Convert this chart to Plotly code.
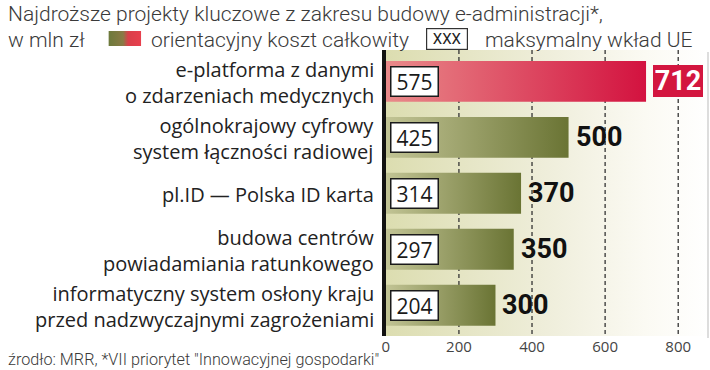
import plotly.graph_objects as go

categories = [
    "e-platforma z danymi<br>o zdarzeniach medycznych",
    "ogólnokrajowy cyfrowy<br>system łączności radiowej",
    "pl.ID — Polska ID karta",
    "budowa centrów<br>powiadamiania ratunkowego",
    "informatyczny system osłony kraju<br>przed nadzwyczajnymi zagrożeniami",
]
total_cost = [712, 500, 370, 350, 300]
eu_max = [575, 425, 314, 297, 204]
tick_vals = [0, 200, 400, 600, 800]
tick_text = ["0", "200", "400", "600", "800"]

W, H = 710, 370
X_MAX = 887
BAR_HALF = 0.365

green_scale = [[0, "#c2c495"], [1, "#6a7434"]]
red_scale = [[0, "#e98a8a"], [1, "#d3123f"]]

fig = go.Figure()

# background gradient
fig.add_trace(go.Scatter(
    x=[0, X_MAX, X_MAX, 0, 0], y=[-0.56, -0.56, 4.55, 4.55, -0.56],
    mode="lines", line=dict(width=0), fill="toself",
    fillgradient=dict(type="horizontal",
                      colorscale=[[0, "#dcddb0"], [0.5, "#efeedb"], [0.8, "#fbfaf3"], [1, "#ffffff"]]),
    hoverinfo="skip", showlegend=False))

# dashed gridlines
gx, gy = [], []
for v in tick_vals[1:]:
    gx += [v, v, None]
    gy += [-0.56, 4.55, None]
fig.add_trace(go.Scatter(x=gx, y=gy, mode="lines",
                         line=dict(color="#333333", width=1.3, dash="4px,3px"),
                         hoverinfo="skip", showlegend=False))

# bars
for i, v in enumerate(total_cost):
    fig.add_trace(go.Scatter(
        x=[0, v, v, 0, 0], y=[i - BAR_HALF, i - BAR_HALF, i + BAR_HALF, i + BAR_HALF, i - BAR_HALF],
        mode="lines", line=dict(width=0), fill="toself",
        fillgradient=dict(type="horizontal", colorscale=red_scale if i == 0 else green_scale),
        hoverinfo="skip", showlegend=False))

# legend swatch
fig.add_trace(go.Scatter(
    x=[0, 1, 1, 0, 0], y=[0, 0, 1, 1, 0], xaxis="x2", yaxis="y2",
    mode="lines", line=dict(width=0), fill="toself",
    fillgradient=dict(type="horizontal", colorscale=[[0, "#6c7a3c"], [0.45, "#8a7a45"], [0.6, "#d9404a"], [1, "#e8404e"]]),
    hoverinfo="skip", showlegend=False))

TXT_FONT = "Roboto"
annotations = []

# category labels
for i, cat in enumerate(categories):
    annotations.append(dict(
        x=0, y=i, xref="x", yref="y", xanchor="right", yanchor="middle", xshift=-10,
        yshift=-1, text=cat, showarrow=False, align="right",
        font=dict(family="Open Sans", size=20, color="#222222")))

for i, (v, e) in enumerate(zip(total_cost, eu_max)):
    annotations.append(dict(
        x=0, y=i, xref="x", yref="y", xanchor="left", yanchor="middle", xshift=4,
        text=str(e), showarrow=False, width=44, height=26, align="center",
        font=dict(family="Open Sans", size=21, color="#1a1a1a"),
        bgcolor="white", bordercolor="#1a1a1a", borderwidth=1.5, borderpad=1))
    if i == 0:
        annotations.append(dict(
            x=v, y=i, xref="x", yref="y", xanchor="left", yanchor="middle", xshift=7,
            text="<b>%d</b>" % v, showarrow=False, width=46, height=28,
            font=dict(family="Roboto", size=27, color="white", weight=900),
            bgcolor="#d3163f", bordercolor="#d3163f", borderwidth=1, borderpad=1))
    else:
        annotations.append(dict(
            x=v, y=i, xref="x", yref="y", xanchor="left", yanchor="middle", xshift=5,
            text="<b>%d</b>" % v, showarrow=False,
            font=dict(family="Roboto", size=27, color="#111111", weight=900)))

txt = "#3a3a3a"
tf = dict(family=TXT_FONT, size=21, color=txt, weight=300)
annotations += [
    dict(x=2 / W, y=1 - 14 / H, xref="paper", yref="paper", xanchor="left", yanchor="middle",
         text="Najdroższe projekty kluczowe z zakresu budowy e-administracji*,", showarrow=False, font=tf),
    dict(x=2 / W, y=1 - 40 / H, xref="paper", yref="paper", xanchor="left", yanchor="middle",
         text="w mln zł", showarrow=False, font=tf),
    dict(x=146 / W, y=1 - 40 / H, xref="paper", yref="paper", xanchor="left", yanchor="middle",
         text="orientacyjny koszt całkowity", showarrow=False, font=tf),
    dict(x=446 / W, y=1 - 39 / H, xref="paper", yref="paper", xanchor="center", yanchor="middle",
         text="XXX", showarrow=False, width=38,
         font=dict(family=TXT_FONT, size=15, color="#222222"),
         bgcolor="white", bordercolor="#333333", borderwidth=1.2, borderpad=1),
    dict(x=482 / W, y=1 - 40 / H, xref="paper", yref="paper", xanchor="left", yanchor="middle",
         text="maksymalny wkład UE", showarrow=False, font=tf),
    dict(x=2 / W, y=1 - 359 / H, xref="paper", yref="paper", xanchor="left", yanchor="middle",
         text="źrodło: MRR, *VII priorytet \"Innowacyjnej gospodarki\"", showarrow=False,
         font=dict(family=TXT_FONT, size=16.2, color=txt, weight=300)),
]

shapes = [
    dict(type="line", xref="paper", yref="paper", x0=708 / W, x1=708 / W,
         y0=(H - 338) / H, y1=(H - 52) / H, line=dict(color="#bbbbbb", width=1)),
]

fig.update_layout(
    width=W, height=H,
    margin=dict(l=0, r=0, t=0, b=0),
    paper_bgcolor="white", plot_bgcolor="white",
    showlegend=False,
    annotations=annotations,
    shapes=shapes,
    xaxis=dict(domain=[384 / W, 1], range=[0, X_MAX], showgrid=False, zeroline=False,
               tickvals=tick_vals, ticktext=tick_text, ticks="", showline=False,
               tickfont=dict(family="Open Sans", size=15, color="#444444"), fixedrange=True),
    yaxis=dict(domain=[(H - 336) / H, (H - 50) / H], range=[4.55, -0.56],
               tickvals=list(range(len(categories))), showticklabels=False,
               showgrid=False, zeroline=False, showline=True, linecolor="#111111", linewidth=4,
               ticks="", fixedrange=True),
    xaxis2=dict(domain=[105 / W, 138 / W], range=[0, 1], visible=False, anchor="y2"),
    yaxis2=dict(domain=[(H - 46) / H, (H - 31) / H], range=[0, 1], visible=False, anchor="x2"),
)

fig.write_html("out.html", config={"displayModeBar": False},
               post_script="document.body.style.margin='0';document.body.style.overflow='hidden';")
